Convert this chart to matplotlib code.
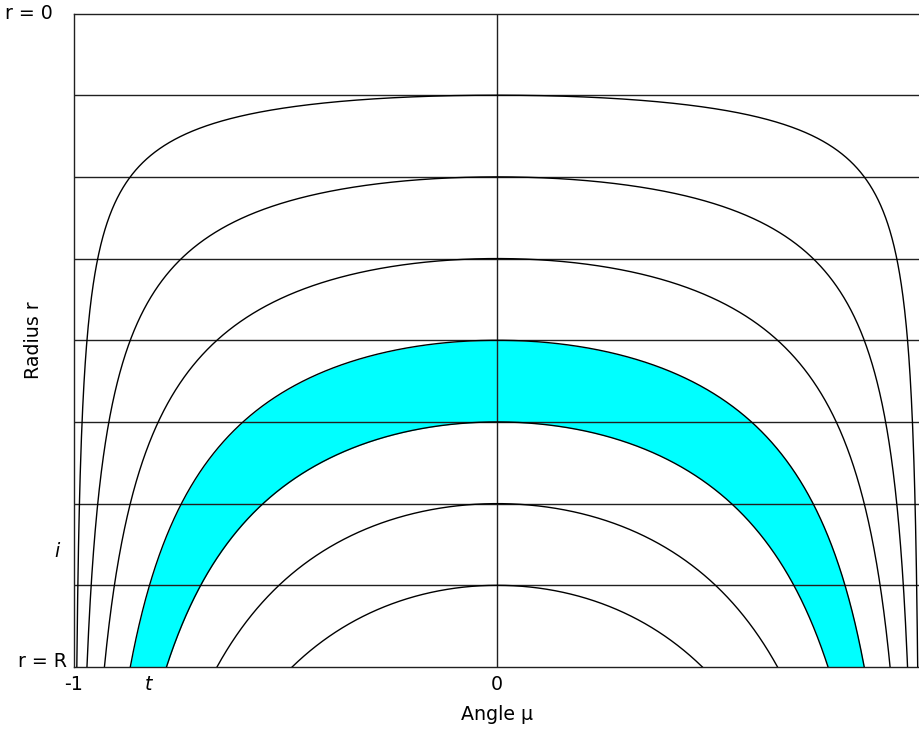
import matplotlib
matplotlib.use("Agg")
import matplotlib.pyplot as plt
import numpy as np

# shell radii (fraction of R), one horizontal line per shell
shell_radii = [1 / 8, 2 / 8, 3 / 8, 4 / 8, 5 / 8, 6 / 8, 7 / 8]
# impact parameters of the drawn ray paths
ray_impacts = [1 / 8, 2 / 8, 3 / 8, 4 / 8, 5 / 8, 6 / 8, 7 / 8]
# the shaded band lies between these two rays
band_outer = 4 / 8
band_inner = 5 / 8

x_tick_pos = [-1, -0.8235, 0]
x_tick_labels = ["-1", "t", "0"]

plt.rcParams["font.family"] = ["DejaVu Sans"]
fsize = 13.7

fig = plt.figure(figsize=(9.19, 7.31), dpi=100)
ax = fig.add_axes([73.5 / 919, (731 - 667) / 731, (921 - 73.5) / 919, (667 - 13.5) / 731])

lw = 1.0


def ray_radius(p, mu):
    return p / np.sqrt(1 - mu ** 2)


# cyan band
m_out = np.sqrt(1 - band_outer ** 2)
mu = np.linspace(-m_out, m_out, 2000)
upper = np.minimum(ray_radius(band_outer, mu), 1.0)
lower = np.minimum(ray_radius(band_inner, np.clip(mu, -0.999, 0.999)), 1.0)
ax.fill_between(mu, upper, lower, color="#00ffff", lw=0, zorder=1)

# ray paths
for p in ray_impacts:
    m = np.sqrt(1 - p ** 2)
    mu = np.linspace(-m, m, 2000)
    ax.plot(mu, np.minimum(ray_radius(p, mu), 1.0), color="black", lw=lw, zorder=3)

# shells
for r in shell_radii:
    ax.axhline(r, color="#202020", lw=lw, zorder=2)
ax.axvline(0, color="#202020", lw=lw, zorder=2)

ax.set_xlim(-1, 1)
ax.set_ylim(1, 0)

for s in ax.spines.values():
    s.set_linewidth(lw)
    s.set_color("#202020")

ax.set_xticks(x_tick_pos)
ax.set_xticklabels(x_tick_labels, fontsize=fsize)
ax.get_xticklabels()[1].set_style("italic")
ax.tick_params(axis="x", length=0, pad=6)
ax.set_yticks([])

ax.text(-0.0242, 0.0, "r = 0", transform=ax.get_yaxis_transform(), ha="right", va="center", fontsize=fsize)
ax.text(-0.016, 0.824, "i", transform=ax.get_yaxis_transform(), ha="right", va="center", fontsize=fsize,
        style="italic")
ax.text(-0.0077, 1.0, "r = R", transform=ax.get_yaxis_transform(), ha="right", va="baseline", fontsize=fsize)

ax.set_xlabel("Angle \u00b5", fontsize=fsize)
ax.xaxis.set_label_coords(0.5, -0.058)
ax.set_ylabel("Radius r", fontsize=fsize)
ax.yaxis.set_label_coords(-0.036, 0.5)

fig.savefig("out.png", dpi=100)
